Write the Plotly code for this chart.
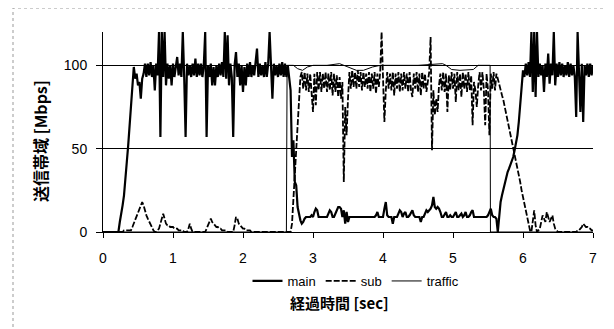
import plotly.graph_objects as go

# ---- data ----
sample_step = 0.02  # s, sampling interval of main/sub
n_samples = 351     # 0.00 .. 7.00 s

main_mbps = [
    0, 0, 0, 0, 0, 0, 0, 0, 0, 0,
    0, 0, 6, 10, 16, 22, 30, 42, 52, 64,
    78, 90, 99, 92, 95, 88, 90, 80, 92, 95,
    101, 93, 101, 94, 102, 93, 100, 85, 101, 94,
    120, 57, 120, 93, 120, 88, 101, 92, 100, 88,
    101, 93, 100, 105, 94, 101, 93, 120, 93, 57,
    101, 94, 100, 93, 101, 94, 104, 93, 101, 94,
    101, 93, 100, 120, 57, 100, 93, 101, 88, 99,
    88, 100, 93, 101, 94, 102, 93, 120, 92, 118,
    88, 101, 93, 57, 100, 108, 93, 101, 88, 100,
    84, 99, 88, 101, 93, 102, 93, 100, 94, 101,
    110, 93, 101, 94, 100, 93, 102, 93, 101, 120,
    93, 80, 101, 94, 100, 93, 101, 94, 102, 93,
    101, 93, 100, 94, 85, 45, 55, 30, 28, 15,
    10, 7, 5, 6, 8, 9, 9, 9, 9, 10,
    9, 12, 14, 13, 9, 9, 9, 9, 9, 9,
    9, 11, 13, 12, 9, 9, 11, 14, 15, 15,
    14, 9, 13, 5, 12, 6, 9, 9, 9, 9,
    9, 9, 9, 9, 9, 9, 9, 9, 9, 9,
    9, 9, 9, 9, 9, 10, 12, 9, 9, 9,
    9, 14, 18, 10, 9, 9, 9, 5, 9, 9,
    9, 11, 13, 12, 9, 11, 12, 9, 9, 10,
    12, 13, 10, 9, 9, 9, 9, 6, 9, 9,
    11, 13, 12, 13, 14, 16, 21, 15, 14, 15,
    14, 12, 9, 9, 11, 12, 9, 9, 10, 9,
    9, 11, 12, 9, 9, 10, 11, 9, 10, 12,
    9, 9, 10, 12, 13, 9, 9, 9, 9, 9,
    9, 9, 9, 9, 9, 10, 12, 14, 10, 9,
    9, 8, 0, 12, 18, 22, 26, 30, 33, 36,
    38, 40, 42, 45, 49, 53, 58, 66, 76, 86,
    97, 93, 101, 94, 102, 93, 120, 84, 120, 81,
    120, 93, 101, 94, 100, 84, 101, 93, 107, 89,
    101, 94, 120, 88, 101, 93, 102, 94, 101, 93,
    100, 94, 102, 93, 101, 94, 100, 93, 69, 120,
    93, 72, 101, 66, 100, 94, 101, 93, 101, 94,
    100,
]

sub_mbps = [
    0, 0, 0, 0, 0, 0, 0, 0, 0, 0,
    0, 0, 0, 0, 0, 1, 1, 1, 1, 1,
    1, 3, 5, 8, 10, 11, 13, 16, 18, 16,
    12, 10, 8, 6, 4, 3, 1, 0, 0, 1,
    2, 5, 8, 11, 8, 5, 4, 4, 3, 3,
    3, 2, 2, 2, 1, 1, 1, 1, 0, 0,
    0, 2, 5, 2, 0, 0, 0, 0, 0, 0,
    0, 0, 0, 0, 2, 4, 6, 8, 6, 5,
    4, 3, 3, 2, 2, 1, 1, 1, 1, 0,
    0, 0, 0, 0, 4, 9, 8, 5, 4, 3,
    2, 2, 1, 1, 1, 1, 0, 0, 0, 0,
    0, 0, 0, 0, 0, 0, 0, 0, 0, 0,
    0, 0, 0, 0, 0, 0, 0, 0, 0, 0,
    0, 0, 0, 0, 0, 5, 20, 35, 50, 70,
    85, 93, 96, 86, 96, 85, 95, 84, 95, 82,
    72, 95, 76, 96, 85, 96, 84, 95, 86, 96,
    84, 95, 85, 96, 82, 95, 84, 94, 81, 93,
    80, 90, 30, 75, 58, 80, 96, 86, 97, 87,
    96, 86, 97, 87, 96, 85, 96, 87, 95, 86,
    96, 84, 95, 86, 96, 83, 95, 87, 96, 120,
    88, 66, 85, 96, 86, 95, 85, 96, 82, 95,
    86, 96, 84, 95, 85, 96, 86, 95, 84, 96,
    85, 81, 95, 86, 96, 84, 95, 82, 96, 86,
    95, 84, 90, 96, 117, 49, 85, 70, 80, 72,
    88, 95, 85, 96, 84, 95, 72, 94, 85, 96,
    86, 95, 78, 96, 85, 95, 81, 96, 86, 95,
    84, 96, 85, 94, 64, 90, 85, 75, 88, 96,
    85, 96, 86, 64, 95, 85, 58, 95, 86, 96,
    85, 95, 92, 88, 84, 82, 79, 75, 71, 67,
    64, 60, 55, 50, 46, 43, 40, 36, 30, 25,
    21, 16, 11, 7, 4, 1, 0, 6, 13, 4,
    0, 1, 2, 6, 10, 8, 6, 12, 8, 6,
    8, 10, 5, 2, 1, 0, 0, 0, 0, 0,
    0, 0, 0, 0, 0, 0, 0, 0, 0, 1,
    1, 2, 3, 5, 4, 3, 3, 2, 2, 1,
    1,
]

traffic_t = [0, 2.62, 2.63, 2.72, 2.78, 2.85, 2.92, 3.0, 3.2, 3.38, 3.5, 3.62,
             3.72, 3.85, 3.96, 4.5, 4.85, 4.9, 4.98, 5.1, 5.29, 5.36, 5.53,
             5.535, 7.0]
traffic_mbps = [0, 0, 100, 100, 98, 97, 99, 100, 100, 101, 99, 97,
                97, 99, 100, 100, 101, 100, 97.5, 97, 97.5, 100, 100,
                0, 0]

x_ticks = [0, 1, 2, 3, 4, 5, 6, 7]
y_ticks = [0, 50, 100]
x_title = "経過時間 [sec]"
y_title = "送信帯域 [Mbps]"
series_names = ["main", "sub", "traffic"]

time_s = [round(i * sample_step, 2) for i in range(n_samples)]

# ---- figure ----
fig = go.Figure()
fig.add_trace(go.Scatter(x=time_s, y=main_mbps, mode="lines", name=series_names[0],
                         line=dict(color="black", width=2.2)))
fig.add_trace(go.Scatter(x=time_s, y=sub_mbps, mode="lines", name=series_names[1],
                         line=dict(color="black", width=1.8, dash="6px,2px")))
fig.add_trace(go.Scatter(x=traffic_t, y=traffic_mbps, mode="lines", name=series_names[2],
                         line=dict(color="black", width=1)))

OFF = 8  # page body margin of the rendered html
W, H = 614 - OFF, 329 - OFF
L, R, T, B = 103 - OFF, 21, 32 - OFF, 97
pw, ph = W - L - R, H - T - B


def px_x(px):
    return (px - OFF - L) / pw


def px_y(py):
    return (H - B - (py - OFF)) / ph


tick_font = dict(family="Liberation Sans, Arial, sans-serif", size=14, color="black")

fig.update_layout(
    width=W, height=H,
    margin=dict(l=L, r=R, t=T, b=B, pad=0),
    paper_bgcolor="white", plot_bgcolor="white",
    showlegend=True,
    legend=dict(orientation="h", x=px_x(356), xanchor="center",
                y=px_y(281), yanchor="middle",
                font=dict(family="Liberation Sans, Arial, sans-serif", size=13, color="black"),
                bgcolor="rgba(0,0,0,0)", tracegroupgap=0, itemwidth=30),
    xaxis=dict(range=[0, 7], tickvals=x_ticks, ticks="outside", ticklen=5,
               tickcolor="black", showline=True, linecolor="black", linewidth=1,
               showgrid=False, zeroline=False, tickfont=tick_font,
               ticklabelstandoff=8),
    yaxis=dict(range=[0, 120], tickvals=y_ticks, ticks="outside", ticklen=6,
               tickcolor="black", showline=True, linecolor="black", linewidth=1,
               showgrid=True, gridcolor="black", gridwidth=1, zeroline=False,
               tickfont=tick_font, ticklabelstandoff=6),
    annotations=[
        dict(text="<b>" + y_title + "</b>", xref="paper", yref="paper",
             x=px_x(40), y=px_y(141), textangle=-90, showarrow=False,
             xanchor="center", yanchor="middle",
             font=dict(family="Noto Sans CJK JP", size=16, color="black")),
        dict(text="<b>" + x_title + "</b>", xref="paper", yref="paper",
             x=px_x(339), y=px_y(302), showarrow=False,
             xanchor="center", yanchor="middle",
             font=dict(family="Noto Sans CJK JP", size=15, color="black")),
    ],
    shapes=[
        dict(type="rect", xref="paper", yref="paper",
             x0=px_x(13), x1=px_x(612), y0=px_y(336), y1=px_y(8),
             line=dict(color="#999999", width=1, dash="dot"), layer="below"),
    ],
)

fig.write_html("out.html")
